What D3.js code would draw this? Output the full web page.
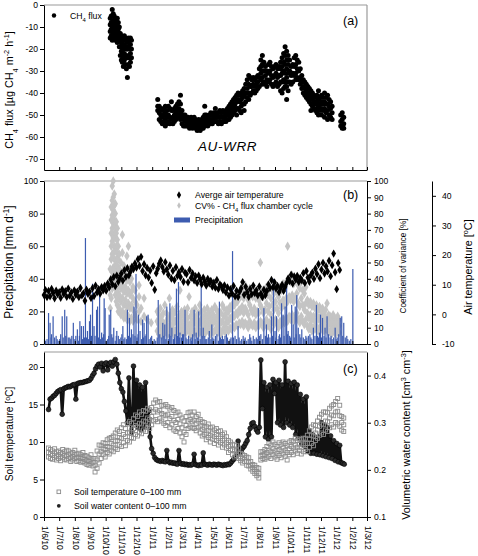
<!DOCTYPE html>
<html><head><meta charset="utf-8">
<script src="https://cdn.jsdelivr.net/npm/d3@7"></script>
<style>body{margin:0;background:#fff}svg{display:block}</style>
</head><body><svg id="c" width="478" height="556"></svg>
<script>
// ---------------- DATA (x = days since 1 Jun 2010) ----------------
const startDate = new Date(2010, 5, 1);
const endDate = new Date(2012, 2, 1);

// CH4 flux [µg CH4 m-2 h-1]: [day, values...]
const ch4Rows = [
[131,-6,-9,-12,-15],[133,-5,-8,-11,-14],[135,-2,-5,-8,-11,-14,-16],[137,-4,-7,-10,-13,-15],[139,-5,-8,-11,-14],
[141,-6,-9,-12,-16],[143,-7,-10,-13,-15],[145,-6,-9,-12,-15,-17],[147,-8,-11,-14],[149,-10,-13,-16,-19],
[151,-13,-16,-19,-23],[153,-14,-17,-21,-25],[155,-15,-18,-22,-26],[157,-16,-20,-24,-28],[159,-14,-18,-22,-25],
[161,-15,-19,-23,-27],[163,-16,-20,-24,-29],[165,-17,-20,-24,-33],[167,-15,-19,-23,-27],[169,-16,-20,-24,-28],
[171,-15,-18,-22,-26],[173,-16,-20,-24],
[225,-43,-46,-48],[228,-46,-49,-52],[231,-47,-50,-53],[234,-48,-51,-54],[237,-47,-50,-53],[240,-46,-49,-52,-55],
[243,-48,-51,-54],[246,-46,-50,-53],[249,-47,-51,-54],[252,-44,-48,-52],[255,-48,-51,-54],[258,-47,-50,-53],
[261,-46,-49,-52],[264,-45,-48,-51],[267,-44,-47,-50],[270,-41,-45,-49,-52],[273,-48,-51,-54],[276,-50,-52,-55],
[279,-50,-53,-55],[282,-51,-53,-55],[285,-51,-53,-55],[288,-52,-54,-56],[291,-51,-53,-55],[294,-52,-54,-56],
[297,-51,-53,-55],[300,-52,-54,-56],[303,-53,-55,-57],[306,-52,-54,-56],[309,-53,-55,-57],[312,-52,-54,-56],
[315,-51,-53,-56],[318,-46,-50,-53,-55],[321,-50,-52,-54],[324,-51,-53,-55],[327,-50,-52,-54],[330,-49,-52,-54],
[333,-50,-52,-54],[336,-49,-51,-53],[339,-47,-50,-53],[342,-49,-51,-53],[345,-49,-51,-54],[348,-48,-51,-53],
[351,-49,-51,-54],[354,-48,-51,-53],[357,-49,-51,-53],[360,-48,-50,-53],[363,-47,-50,-52],[366,-46,-49,-52],
[369,-45,-48,-51],[372,-44,-47,-50],[375,-43,-46,-49],[378,-42,-45,-48],[381,-41,-44,-47,-50],[384,-40,-43,-47],
[387,-41,-44,-48],[390,-40,-43,-46,-49],[393,-39,-42,-45],[396,-38,-41,-45,-48],[399,-36,-40,-44],[402,-34,-38,-42],
[405,-32,-36,-40,-43],[408,-33,-37,-41],[411,-34,-37,-40],[414,-33,-36,-39],[417,-34,-37,-40],[420,-33,-36,-39],
[423,-32,-35,-38],[426,-29,-33,-37],[429,-25,-28,-31,-34],[432,-23,-27,-30,-33,-36],[435,-26,-30,-35],[438,-28,-32,-36],
[441,-30,-34,-37],[444,-27,-31,-35],[447,-26,-30,-34],[450,-28,-32,-36],[453,-29,-33,-37],[456,-28,-32,-36],
[459,-27,-31,-35],[462,-29,-33,-37],[465,-28,-32,-36],[468,-26,-29,-32,-35,-39],[471,-24,-28,-31,-35,-40],
[474,-22,-26,-30,-34,-38],[477,-19,-23,-27,-31,-35,-37],[480,-21,-25,-29,-33,-37,-43],[483,-23,-27,-31,-35,-39],
[486,-25,-30,-35],[489,-28,-32,-36],[492,-27,-31,-35],[495,-24,-28,-32],[498,-23,-27,-31,-34],[501,-25,-29,-33],
[504,-26,-30,-34],[507,-29,-33,-36],[510,-32,-35,-38],[513,-34,-37,-40],[516,-35,-38,-41],[519,-36,-39,-42],
[522,-37,-40,-43],[525,-38,-41,-44],[528,-39,-42,-45,-48],[531,-40,-43,-46],[534,-41,-44,-47],[537,-42,-45,-48],
[540,-41,-44,-47,-49],[543,-39,-43,-46,-50],[546,-42,-45,-48],[549,-41,-44,-47,-50],[552,-42,-45,-48],
[555,-40,-44,-47,-51],[558,-42,-45,-49],[561,-41,-45,-48,-52],[564,-43,-46,-50],[567,-44,-47,-51],[570,-46,-49,-52],
[587,-50,-53,-55],[590,-49,-52,-55,-56],[593,-51,-54,-56]
];

// Average air temperature [°C], sampled every 3 days from day 0
const airTempStep = 3;
const airTemp = [
6.5,8.2,5.8,7.9,6.1,8.6,7.2,5.4,8.0,6.8,
7.5,5.6,8.4,6.9,7.8,5.9,8.7,6.3,7.4,5.2,
8.1,6.6,7.7,5.8,8.9,6.4,7.1,4.6,8.3,6.9,
7.6,5.5,8.8,6.2,9.7,7.4,8.5,7.0,9.2,8.1,
9.6,8.0,10.4,9.1,11.8,10.2,12.6,9.5,13.1,11.0,
12.2,13.8,11.4,14.9,12.7,15.6,13.2,14.4,16.1,15.3,
17.2,15.8,18.6,16.4,19.4,14.6,16.9,13.2,15.7,12.4,
14.8,10.6,16.2,8.3,13.9,15.4,17.1,18.2,16.0,14.5,
17.6,15.2,13.4,16.5,12.1,14.7,11.6,15.9,13.0,14.2,
12.6,15.3,11.0,14.1,13.6,10.8,15.0,12.3,13.8,11.5,
12.9,10.6,13.1,11.7,10.2,12.4,11.1,9.7,12.0,10.5,
11.3,9.4,10.7,9.0,11.6,8.6,10.1,9.5,8.2,9.8,
7.4,9.1,6.3,8.5,7.0,9.6,6.1,8.0,5.9,7.7,
8.8,10.9,6.6,9.3,7.5,5.9,8.6,6.8,9.7,7.2,
8.1,6.4,9.4,7.0,5.8,8.3,6.5,7.9,10.1,8.9,
11.6,9.2,10.8,8.7,9.6,7.5,8.9,10.0,7.9,9.3,
10.6,12.1,11.2,13.4,10.4,12.8,11.7,13.0,10.9,12.3,
11.5,13.9,10.6,14.6,12.4,11.0,13.2,14.1,12.0,15.4,
13.6,16.9,12.2,15.1,17.4,13.8,16.2,14.5,18.1,12.9,
16.6,20.5,14.2,8.5,17.3,15.0
];

// CV% of CH4 flux chamber cycle: [day, values...]
const cvRows = [
[131,22,30,38,46],[133,28,40,52,60,68,76,84],[135,34,44,55,63,71,79,88,97],[137,38,47,56,65,74,82,90,100],
[139,35,44,52,60,68,76,85,92],[141,30,40,48,57,65,72,80,86],[143,26,35,44,52,60,68,75],[145,24,32,40,48,56,64,71],
[147,20,28,36,44,52,60],[149,22,30,38,46,55],[152,18,26,34,42,50],[155,20,28,36,44,56,67],[158,16,24,32,40,48],
[161,19,27,35,43],[164,15,23,31,39,54],[167,17,25,33,41,60],[170,14,22,30,38,46],[173,16,24,32,40],[176,14,21,28,35],
[180,18,26,33],[184,15,24],[188,20,29,36],[192,14,22],[198,17,28],[204,15],[212,13],
[224,8,14,20],[227,6,12,18],[230,9,15,22],[233,5,11,17],[236,8,13,19],[239,7,12,24],[242,9,14,19],[245,6,11,16],
[248,8,15,28],[251,7,12,18],[254,10,16,21],[257,6,13,19],[260,8,14,20],[263,9,15,23],[266,7,12,17],[269,10,17,33],
[272,8,14,20],[275,6,11,18],[278,9,15,21],[281,7,13,19],[284,10,16,22],[287,8,12,29],[290,5,11,17],[293,9,14,20],
[296,7,13,18],[299,8,15,22],[302,6,12,17],[305,9,14,19],[308,7,13,24],[311,8,15,20],[314,6,11,17],[317,9,14,21],
[320,7,12,18],[323,10,16,22],[326,8,13,19],[329,6,12,17],[332,9,15,21],[335,7,13,18],[338,8,14,23],[341,10,16,21],
[344,7,12,18],[347,9,15,20],[350,6,13,19],[353,8,14,24],[356,10,17,22],[359,7,12,18],[362,9,15,21],[365,8,14,20],
[368,10,16,23],[371,9,15,22],[374,11,18,25],[377,10,17,24],[380,12,19,27],[383,11,18,26],[386,13,21,30],
[389,12,20,29],[392,14,23,33],[395,11,19,28],[398,13,22,36],[401,12,20,31],[404,10,18,27],[407,14,24,34],
[410,12,21,30],[413,11,19,29],[416,13,22,32],[419,10,18,28],[422,12,20,30],[425,11,19,27],[428,14,24,50],
[431,13,22,33],[434,10,19,29],[437,12,21,31],[440,15,25,35],[443,11,20,30],[446,13,23,34],[449,9,18,28],
[452,14,24,33],[455,12,21,31],[458,15,26,36],[461,13,22,32],[464,10,19,29],[467,14,25,35],[470,12,22,33],
[473,15,27,37],[476,13,24,34],[479,16,28,38],[482,14,26,60],[485,17,29,40],[488,15,27,38],[491,18,30,42],
[494,14,26,37],[497,16,28,39],[500,19,31,41],[503,15,25,36],[506,13,23,34],[509,17,28,38],[512,14,24,33],
[515,12,21,31],[518,15,25,35],[521,11,19,27],[524,9,16,24],[527,12,18,26],[530,8,15,23],[533,10,17,25],
[536,9,14,22],[539,11,18,24],[542,8,15,21],[545,10,16,23],[548,9,14,20],[551,11,17,22],[554,8,13,19],
[557,10,16,21],[560,9,15,25],[563,7,12,18],[566,8,13,17],[569,6,11,16],[572,9,14,18],[575,7,12,16],
[578,6,10,15],[581,8,13,17],[584,7,11,15]
];

// Precipitation [mm d-1]: [day, mm]
const precip = [
[1,3],[3,2],[6,3],[9,19],[12,13],[14,4],[15,6],[18,17],[21,4],[24,5],[26,3],[28,2],[31,3],[33,6],[36,17],[38,4],
[41,21],[43,5],[45,17],[48,4],[51,4],[53,3],[55,5],[58,13],[61,3],[63,5],[66,9],[68,2],[70,5],[71,14],[74,11],
[76,3],[78,11],[80,4],[82,65],[84,4],[86,8],[88,3],[90,14],[92,18],[94,5],[96,37],[99,11],[101,5],[104,21],
[106,23],[108,4],[110,35],[112,3],[114,7],[116,4],[118,6],[119,28],[121,22],[124,2],[126,3],[128,5],[129,18],
[132,21],[134,6],[136,4],[138,10],[141,2],[143,5],[144,8],[147,5],[149,3],[152,4],[154,6],[156,11],[158,3],
[160,4],[163,3],[165,21],[167,5],[169,16],[171,4],[173,9],[176,6],[178,23],[180,5],[182,43],[184,4],[186,6],
[187,18],[190,8],[193,3],[195,15],[197,4],[198,13],[200,5],[202,6],[203,17],[206,18],[208,3],[211,4],[213,5],
[216,1],[218,3],[221,2],[224,4],[226,27],[229,6],[232,4],[235,13],[237,5],[239,12],[241,3],[243,23],[246,3],
[248,6],[249,25],[251,5],[253,10],[256,3],[258,4],[259,6],[262,34],[264,5],[266,38],[268,4],[269,7],[272,4],
[274,6],[276,6],[279,21],[281,4],[283,3],[286,5],[289,3],[291,4],[292,2],[294,6],[297,21],[299,3],[301,7],
[304,4],[306,20],[309,3],[311,37],[313,5],[315,10],[318,5],[320,3],[322,3],[325,4],[327,8],[330,3],[332,12],
[334,4],[336,3],[339,5],[342,6],[345,2],[347,26],[349,4],[351,3],[353,5],[355,3],[358,5],[361,6],[363,4],
[366,2],[368,3],[370,4],[373,57],[375,4],[378,5],[381,3],[384,11],[386,4],[388,2],[391,3],[394,5],[396,3],
[398,4],[401,2],[404,3],[407,6],[409,4],[411,2],[414,5],[417,3],[420,4],[422,3],[424,22],[426,5],[429,6],
[432,3],[435,22],[438,5],[440,12],[442,4],[444,6],[447,4],[450,17],[452,5],[454,40],[457,8],[459,4],[460,17],
[463,3],[465,5],[466,6],[468,4],[470,25],[473,18],[475,5],[477,23],[480,40],[482,6],[483,8],[486,5],[488,4],
[490,24],[493,12],[495,4],[497,23],[499,6],[500,30],[503,10],[506,6],[508,4],[510,9],[513,4],[516,3],[518,5],
[520,4],[523,5],[526,6],[528,4],[530,3],[533,10],[536,5],[539,24],[541,5],[543,4],[545,7],[547,18],[549,4],
[551,16],[554,5],[556,10],[558,4],[560,17],[563,6],[566,4],[568,5],[570,3],[573,4],[576,10],[578,3],[580,4],
[583,6],[586,16],[589,17],[591,5],[593,13],[596,4],[599,5],[601,3],[604,2],[607,3],[611,46]
];

// Soil temperature 0-100 mm [°C]: [day, low, mid, high]
const soilTempRows = [
[9,8.0,8.6,9.2],[13,7.8,8.4,9.0],[17,7.7,8.2,8.8],[21,7.9,8.5,9.1],[25,7.6,8.1,8.7],[29,7.8,8.3,8.8],[33,7.5,8.0,8.6],
[37,7.9,8.4,9.0],[41,7.7,8.2,8.7],[45,7.6,8.1,8.9],[49,7.8,8.3,8.8],[53,7.4,7.9,8.5],[57,7.6,8.1,8.6],[61,7.8,8.3,8.9],
[65,7.4,7.9,8.4],[69,7.5,8.0,8.5],[73,7.3,7.8,8.3],[77,7.4,7.9,8.6],[81,7.2,7.7,8.2],[85,7.0,7.5,8.1],[89,6.9,7.4,7.9],
[93,7.1,7.6,8.3],[97,6.8,7.3,7.8],[101,6.0,6.9,7.8],[105,6.5,7.6,8.8],[109,7.2,8.4,9.6],[113,7.8,8.7,9.5],[117,8.3,9.1,9.9],
[121,8.0,9.0,9.8],[125,8.6,9.4,10.3],[129,8.4,9.3,10.5],[133,8.9,9.8,10.6],[137,8.7,9.6,10.8],[141,9.2,10.1,11.2],
[145,9.0,10.2,11.6],[149,9.6,10.6,11.4],[153,9.4,10.5,11.9],[157,9.9,11.0,12.3],[161,9.5,10.7,11.8],[165,10.2,11.2,12.4],
[169,10.0,11.3,12.7],[173,10.6,11.6,12.5],[177,10.5,11.8,13.1],[181,11.0,12.2,13.6],[185,10.8,12.0,13.4],[189,11.3,12.5,14.0],
[193,11.1,12.4,13.7],[197,11.6,12.8,14.2],[201,11.4,12.7,14.1],[205,12.0,13.2,14.5],[209,11.8,13.0,14.3],[213,12.3,13.4,14.6],
[217,12.8,14.0,15.2],[221,13.0,14.3,15.6],[225,12.7,14.0,15.3],[229,13.1,14.2,15.4],[233,12.8,13.8,14.9],[237,12.5,13.6,14.8],
[241,12.2,13.5,15.0],[245,12.6,13.7,14.7],[249,11.9,13.1,14.4],[253,12.3,13.4,14.6],[257,11.6,12.9,14.2],[261,11.4,12.6,13.9],
[265,11.8,13.0,14.0],[269,11.2,12.4,13.6],[273,10.7,11.9,13.2],[277,10.0,11.3,12.8],[281,11.0,12.2,13.4],[285,11.8,12.8,13.9],
[289,12.0,13.0,14.0],[293,11.9,12.7,13.6],[297,11.8,12.9,14.0],[301,11.5,12.5,13.4],[305,11.9,12.8,13.7],[309,11.2,12.1,13.0],
[313,10.8,11.7,12.7],[317,11.0,11.9,12.6],[321,10.3,11.2,12.1],[325,10.6,11.5,12.4],[329,10.0,10.9,11.9],[333,10.4,11.2,12.0],
[337,9.8,10.7,11.6],[341,10.2,11.0,11.8],[345,9.6,10.5,11.4],[349,9.9,10.7,11.5],[353,9.3,10.2,11.0],[357,9.6,10.4,11.2],
[361,9.2,9.9,10.7],[365,8.6,9.4,10.2],[369,8.9,9.6,10.0],[373,8.3,9.0,9.7],[377,8.0,8.8,9.6],[381,8.2,8.9,9.5],
[385,7.8,8.5,9.2],[389,7.5,8.0,8.5],[393,7.2,7.8,8.3],[397,7.4,7.9,8.2],[401,6.9,7.4,8.0],[405,6.8,7.3,7.9],
[409,6.4,6.9,7.4],[413,6.1,6.6,7.0],[417,5.8,6.3,6.9],[421,5.5,6.0,6.6],[425,5.2,5.8,6.5],[429,7.6,8.1,8.7],
[433,7.8,8.3,8.7],[437,7.7,8.3,9.0],[441,7.9,8.6,9.4],[445,8.1,8.9,9.8],[449,7.8,8.7,9.6],[453,8.3,9.1,10.0],
[457,8.0,8.8,9.7],[461,7.7,8.5,9.4],[465,8.2,9.0,9.9],[469,7.9,8.8,9.7],[473,8.4,9.2,10.0],[477,8.1,8.9,9.8],
[481,7.6,8.6,9.5],[485,8.3,9.1,10.0],[489,8.6,9.4,10.2],[493,8.3,9.2,10.1],[497,8.8,9.6,10.5],[501,8.5,9.3,10.2],
[505,8.9,9.7,10.4],[509,8.4,9.3,10.3],[513,8.7,9.6,10.5],[517,9.0,9.8,10.5],[521,8.7,9.8,10.9],[525,9.3,10.4,11.5],
[529,9.8,10.9,12.0],[533,9.5,10.8,12.3],[537,10.2,11.2,12.2],[541,10.5,11.6,12.8],[545,10.9,12.1,13.3],[549,11.2,12.4,13.7],
[553,11.0,12.3,14.0],[557,11.6,12.8,14.0],[561,11.4,12.7,13.9],[565,11.9,13.2,14.5],[569,12.3,13.6,14.8],[573,12.0,13.5,15.0],
[577,12.6,14.0,15.4],[581,12.4,14.1,15.8],[585,12.1,13.5,14.9],[589,11.6,12.6,13.4],[593,11.4,12.3,13.2]
];

// Soil water content 0-100 mm [cm3 cm-3], sampled every 3 days from day 9
const swcFirstDay = 9, swcStep = 3;
const soilWater = [
0.328,0.350,0.352,0.356,0.358,0.362,0.366,0.368,0.370,0.318,
0.372,0.374,0.375,0.377,0.376,0.378,0.380,0.381,0.350,0.383,
0.384,0.385,0.385,0.386,0.387,0.388,0.389,0.390,0.394,0.400,
0.405,0.414,0.420,0.424,0.418,0.426,0.410,0.424,0.427,0.412,
0.425,0.428,0.420,0.429,0.434,0.424,0.405,0.385,0.372,0.365,
0.345,0.325,0.300,0.395,0.300,0.280,0.420,0.300,0.390,0.290,
0.380,0.285,0.375,0.290,0.385,0.300,0.325,0.270,0.245,0.235,
0.226,0.222,0.220,0.219,0.218,0.220,0.218,0.217,0.241,0.218,
0.215,0.216,0.214,0.215,0.213,0.212,0.241,0.214,0.212,0.213,
0.211,0.212,0.210,0.211,0.210,0.212,0.233,0.211,0.210,0.209,
0.211,0.210,0.236,0.212,0.211,0.210,0.212,0.211,0.210,0.212,
0.211,0.210,0.212,0.211,0.210,0.209,0.211,0.210,0.212,0.211,
0.214,0.218,0.222,0.226,0.232,0.261,0.236,0.240,0.246,0.250,
0.256,0.262,0.275,0.288,0.298,0.300,0.292,0.285,0.280,0.290,
0.433,0.330,0.385,0.270,0.375,0.265,0.380,0.270,0.392,0.362,
0.385,0.300,0.390,0.295,0.380,0.290,0.429,0.300,0.388,0.295,
0.383,0.290,0.386,0.275,0.380,0.268,0.360,0.255,0.350,0.250,
0.355,0.240,0.283,0.235,0.275,0.235,0.268,0.233,0.270,0.232,
0.300,0.230,0.295,0.228,0.290,0.226,0.272,0.224,0.262,0.220,
0.256,0.217,0.252,0.215,0.214,0.212
];

// Tick values
const ch4Ticks = [0,-10,-20,-30,-40,-50,-60,-70];
const precipTicks = [0,20,40,60,80,100];
const cvTicks = [0,10,20,30,40,50,60,70,80,90,100];
const airTicks = [-10,0,10,20,30,40];
const soilTTicks = [0,5,10,15,20];
const swcTicks = [0.1,0.2,0.3,0.4];

// ---------------- DRAWING ----------------
const F = "'Liberation Sans', Arial, Helvetica, sans-serif";
const svg = d3.select('#c');
const day = d => d3.timeDay.offset(startDate, d);
const X0 = 44, X1 = 367;
const x = d3.scaleTime().domain([startDate, endDate]).range([X0, X1]);
const months = d3.timeMonth.range(startDate, d3.timeDay.offset(endDate, 1));

const ya = d3.scaleLinear().domain([-75, 0]).range([170, 5]);
const yb = d3.scaleLinear().domain([0, 100]).range([344, 181]);
const yt = d3.scaleLinear().domain([-10, 45]).range([344, 181]);
const yc = d3.scaleLinear().domain([0, 22]).range([517, 352]);
const yw = d3.scaleLinear().domain([0.1, 0.45]).range([517, 352]);

const TICK_FS = 8.6, TITLE_FS = 10.8;

function styleAxis(g) {
  g.attr('font-family', F).attr('font-size', TICK_FS);
  g.selectAll('path.domain').attr('stroke', '#000').attr('stroke-width', 1);
  g.selectAll('.tick line').attr('stroke', '#000');
  g.selectAll('text').attr('fill', '#000');
}
function rich(sel, parts) {
  parts.forEach(p => {
    const t = sel.append('tspan').text(p[0]);
    if (p[1] === 'sub') t.attr('baseline-shift', 'sub').attr('font-size', '68%');
    if (p[1] === 'sup') t.attr('baseline-shift', 'super').attr('font-size', '68%');
  });
}
function frame(yTop, yBot, grayRight) {
  svg.append('line').attr('x1', X0).attr('x2', X1).attr('y1', yTop).attr('y2', yTop)
    .attr('stroke', '#9a9a9a').attr('stroke-width', 1.2);
  if (grayRight) svg.append('line').attr('x1', X1).attr('x2', X1).attr('y1', yTop).attr('y2', yBot)
    .attr('stroke', '#9a9a9a').attr('stroke-width', 1.2);
}
function vTitle(xp, yp, parts, fs) {
  const t = svg.append('text').attr('transform', `translate(${xp},${yp}) rotate(-90)`)
    .attr('text-anchor', 'middle').attr('font-family', F).attr('font-size', fs).attr('fill', '#000');
  rich(t, parts);
}

// ===== Panel (a) =====
frame(5, 170, true);
svg.append('g').selectAll('g').data(ch4Rows).join('g').each(function(r) {
  d3.select(this).selectAll('circle').data(r.slice(1)).join('circle')
    .attr('cx', x(day(r[0]))).attr('cy', v => ya(v)).attr('r', 2.5).attr('fill', '#000');
});
svg.append('g').attr('transform', `translate(${X0},0)`)
  .call(d3.axisLeft(ya).tickValues(ch4Ticks).tickSize(4).tickPadding(2).tickSizeOuter(0).tickFormat(d => String(d)))
  .call(styleAxis);
svg.append('g').attr('transform', `translate(0,170)`)
  .call(d3.axisBottom(x).tickValues(months).tickSize(-3).tickSizeOuter(0).tickFormat(''))
  .call(styleAxis);
svg.append('circle').attr('cx', 54).attr('cy', 15.5).attr('r', 2.2).attr('fill', '#000');
rich(svg.append('text').attr('x', 70).attr('y', 18.5).attr('font-family', F).attr('font-size', 8.7),
  [['CH', ''], ['4', 'sub'], [' flux', '']]);
svg.append('text').attr('x', 343).attr('y', 25).attr('font-family', F).attr('font-size', 12.5).text('(a)');
svg.append('text').attr('x', 198).attr('y', 151).attr('font-family', F).attr('font-size', 13.5)
  .attr('font-style', 'italic').attr('letter-spacing', 0.6).text('AU-WRR');
vTitle(13, 90, [['CH', ''], ['4', 'sub'], [' flux [µg CH', ''], ['4', 'sub'], [' m', ''], ['-2', 'sup'], [' h', ''], ['-1', 'sup'], [']', '']], TITLE_FS);

// ===== Panel (b) =====
frame(181, 344, false);
const cvG = svg.append('g');
cvRows.forEach(r => {
  r.slice(1).forEach(v => {
    cvG.append('path').attr('d', d3.symbol(d3.symbolDiamond, 26)())
      .attr('transform', `translate(${x(day(r[0]))},${yb(v)})`).attr('fill', '#c4c4c4');
  });
});
svg.append('g').selectAll('rect').data(precip).join('rect')
  .attr('x', d => x(day(d[0])) - 0.6).attr('width', 1.2)
  .attr('y', d => yb(d[1])).attr('height', d => yb(0) - yb(d[1])).attr('fill', '#3d5cb0');
svg.append('g').selectAll('path').data(airTemp).join('path')
  .attr('d', d3.symbol(d3.symbolDiamond, 20)())
  .attr('transform', (v, i) => `translate(${x(day(i * airTempStep))},${yt(v)})`).attr('fill', '#000');
svg.append('g').attr('transform', `translate(${X0},0)`)
  .call(d3.axisLeft(yb).tickValues(precipTicks).tickSize(4).tickPadding(2).tickSizeOuter(0))
  .call(styleAxis);
svg.append('g').attr('transform', `translate(${X1},0)`)
  .call(d3.axisRight(yb).tickValues(cvTicks).tickSize(4).tickPadding(3).tickSizeOuter(0))
  .call(styleAxis);
svg.append('g').attr('transform', `translate(0,344)`)
  .call(d3.axisBottom(x).tickValues(months).tickSize(-3).tickSizeOuter(0).tickFormat(''))
  .call(styleAxis);
svg.append('g').attr('transform', `translate(432,0)`)
  .call(d3.axisRight(yt).tickValues(airTicks).tickSize(4).tickPadding(6).tickSizeOuter(0).tickFormat(d => String(d)))
  .call(styleAxis);
// legend (b)
svg.append('path').attr('d', d3.symbol(d3.symbolDiamond, 16)()).attr('transform', 'translate(179,195)').attr('fill', '#000');
svg.append('path').attr('d', d3.symbol(d3.symbolDiamond, 12)()).attr('transform', 'translate(179,205.5)').attr('fill', '#c2c2c2');
svg.append('rect').attr('x', 174).attr('y', 217.5).attr('width', 16).attr('height', 5).attr('fill', '#3d5cb0');
svg.append('text').attr('x', 195).attr('y', 198).attr('font-family', F).attr('font-size', 8.7).text('Averge air temperature');
rich(svg.append('text').attr('x', 195).attr('y', 209).attr('font-family', F).attr('font-size', 8.7),
  [['CV% - CH', ''], ['4', 'sub'], [' flux chamber cycle', '']]);
svg.append('text').attr('x', 195).attr('y', 223).attr('font-family', F).attr('font-size', 8.7).text('Precipitation');
svg.append('text').attr('x', 343).attr('y', 199).attr('font-family', F).attr('font-size', 12.5).text('(b)');
vTitle(13, 262, [['Precipitation [mm d', ''], ['-1', 'sup'], [']', '']], 12);
vTitle(406, 266, [['Coefficient of  variance [%]', '']], 8.2);
vTitle(472, 267, [['Air temperature  [', ''], ['o', 'sup'], ['C]', '']], TITLE_FS);

// ===== Panel (c) =====
frame(352, 517, false);
const swcData = soilWater.map((v, i) => [swcFirstDay + i * swcStep, v]);
svg.append('path').datum(swcData)
  .attr('d', d3.line().x(d => x(day(d[0]))).y(d => yw(d[1])))
  .attr('fill', 'none').attr('stroke', '#111').attr('stroke-width', 2.6).attr('stroke-linejoin', 'round');
svg.append('g').selectAll('circle').data(swcData).join('circle')
  .attr('cx', d => x(day(d[0]))).attr('cy', d => yw(d[1])).attr('r', 2.4)
  .attr('fill', '#2a2a2a').attr('stroke', '#000').attr('stroke-width', 0.6);
const stG = svg.append('g');
soilTempRows.forEach(r => {
  r.slice(1).forEach(v => {
    stG.append('rect').attr('x', x(day(r[0])) - 2).attr('y', yc(v) - 2).attr('width', 4).attr('height', 4)
      .attr('fill', 'none').attr('stroke', '#8c8c8c').attr('stroke-width', 0.9);
  });
});
svg.append('g').attr('transform', `translate(${X0},0)`)
  .call(d3.axisLeft(yc).tickValues(soilTTicks).tickSize(4).tickPadding(2).tickSizeOuter(0))
  .call(styleAxis);
svg.append('g').attr('transform', `translate(${X1},0)`)
  .call(d3.axisRight(yw).tickValues(swcTicks).tickSize(4).tickPadding(3).tickSizeOuter(0).tickFormat(d3.format('.1f')))
  .call(styleAxis);
const xc = svg.append('g').attr('transform', `translate(0,517)`)
  .call(d3.axisBottom(x).tickValues(months).tickSize(4).tickSizeOuter(0)
    .tickFormat(d => `${d.getDate()}/${d.getMonth() + 1}/${String(d.getFullYear()).slice(2)}`))
  .call(styleAxis);
xc.selectAll('text').attr('transform', 'rotate(90)').attr('text-anchor', 'start')
  .attr('x', 9).attr('y', 0).attr('dy', '0.32em');
// legend (c)
svg.append('rect').attr('x', 57).attr('y', 490).attr('width', 3.6).attr('height', 3.6)
  .attr('fill', 'none').attr('stroke', '#8c8c8c').attr('stroke-width', 0.9);
svg.append('circle').attr('cx', 58.8).attr('cy', 505.8).attr('r', 1.9).attr('fill', '#222');
svg.append('text').attr('x', 74).attr('y', 495).attr('font-family', F).attr('font-size', 8.7).text('Soil temperature 0–100 mm');
svg.append('text').attr('x', 74).attr('y', 509).attr('font-family', F).attr('font-size', 8.7).text('Soil water content 0–100 mm');
svg.append('text').attr('x', 343).attr('y', 373).attr('font-family', F).attr('font-size', 12.5).text('(c)');
vTitle(13, 434, [['Soil temperature [', ''], ['o', 'sup'], ['C]', '']], 10.2);
vTitle(410, 435, [['Volumetric water content [cm', ''], ['3', 'sup'], [' cm', ''], ['-3', 'sup'], [']', '']], TITLE_FS);
</script></body></html>
